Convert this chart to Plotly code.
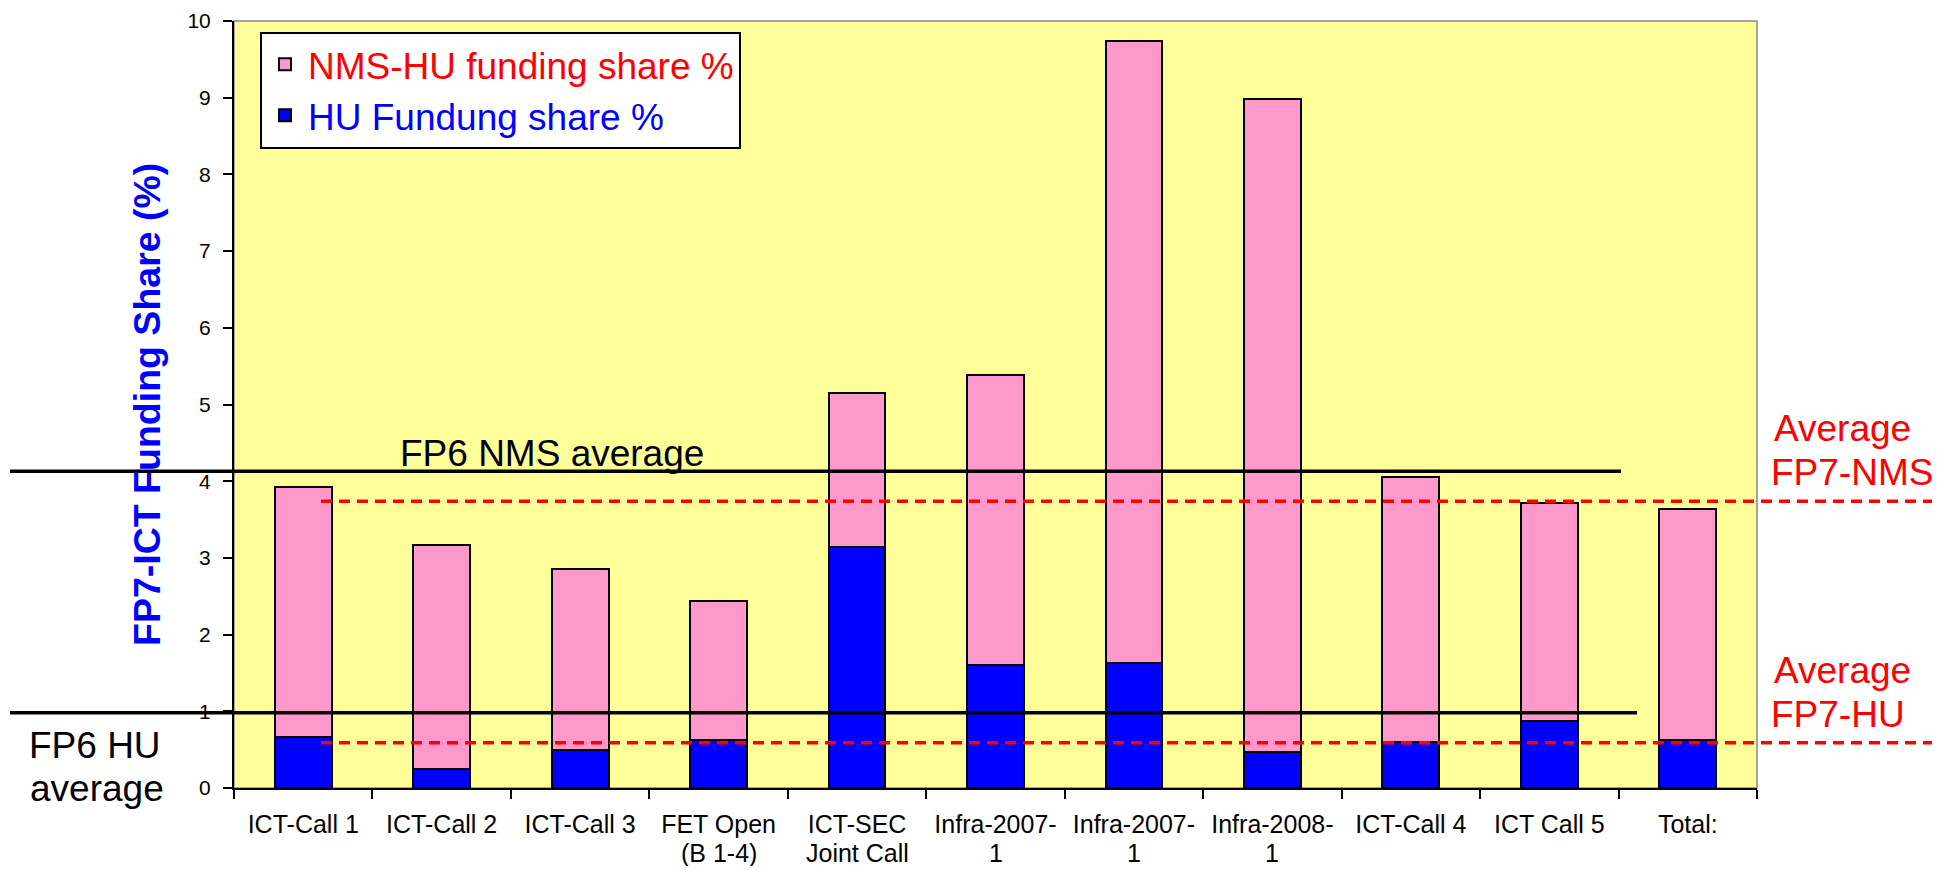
import plotly.graph_objects as go

# ---------------- data ----------------
labels_line1 = ["ICT-Call 1", "ICT-Call 2", "ICT-Call 3", "FET Open", "ICT-SEC",
                "Infra-2007-", "Infra-2007-", "Infra-2008-", "ICT-Call 4", "ICT Call 5", "Total:"]
labels_line2 = ["", "", "", "(B 1-4)", "Joint Call", "1", "1", "1", "", "", ""]
positions = list(range(len(labels_line1)))

hu_share = [0.67, 0.25, 0.50, 0.62, 3.14, 1.61, 1.63, 0.47, 0.60, 0.88, 0.62]
total_share = [3.93, 3.17, 2.86, 2.44, 5.15, 5.39, 9.74, 8.98, 4.05, 3.72, 3.64]
nms_hu_share = [round(t - h, 2) for t, h in zip(total_share, hu_share)]

fp6_nms_avg = 4.13
fp6_hu_avg = 0.98
fp7_nms_avg = 3.74
fp7_hu_avg = 0.59

y_ticks = list(range(0, 11))

# ---------------- layout geometry ----------------
# the page body adds an 8px margin around the figure, so the figure is made
# smaller and all screen positions below are given in window pixels.
OFF = 8
WIN_W, WIN_H = 1955, 874
W, H = WIN_W - 2 * OFF, WIN_H - 2 * OFF
PLOT_L, PLOT_R, PLOT_T, PLOT_B = 234, 1757, 21, 788   # window pixels
PW = PLOT_R - PLOT_L
PH = PLOT_B - PLOT_T
L = PLOT_L - OFF
T = PLOT_T - OFF
R = W - L - PW
B = H - T - PH
YMAX = 10
FONT = "Liberation Sans, Arial, sans-serif"


def px_x(x):
    return (x - PLOT_L) / PW


def px_y(y):
    return (PLOT_B - y) / PH


def val_y(v):
    return v / YMAX


fig = go.Figure()

fig.add_trace(go.Bar(
    x=positions, y=hu_share, width=0.41,
    name="<span style='color:#0000FF'>HU Fundung share %</span>",
    marker=dict(color="#0000FF", line=dict(color="black", width=2)),
))
fig.add_trace(go.Bar(
    x=positions, y=nms_hu_share, width=0.41,
    name="<span style='color:#FF0000'>NMS-HU funding share %</span>",
    marker=dict(color="#FF99CC", line=dict(color="black", width=2)),
))

shapes = []
# plot border (gray top/right)
shapes.append(dict(type="rect", xref="paper", yref="paper", x0=0, x1=1, y0=0, y1=1,
                   line=dict(color="#888888", width=1.5), layer="below"))
# FP6 averages (black solid)
shapes.append(dict(type="line", xref="paper", yref="y domain",
                   x0=px_x(10), x1=px_x(1621), y0=val_y(fp6_nms_avg), y1=val_y(fp6_nms_avg),
                   line=dict(color="black", width=3.5), layer="above"))
shapes.append(dict(type="line", xref="paper", yref="y domain",
                   x0=px_x(10), x1=px_x(1637), y0=val_y(fp6_hu_avg), y1=val_y(fp6_hu_avg),
                   line=dict(color="black", width=3.5), layer="above"))
# FP7 averages (red dashed)
for v in (fp7_nms_avg, fp7_hu_avg):
    shapes.append(dict(type="line", xref="paper", yref="y domain",
                       x0=px_x(321), x1=px_x(1932), y0=val_y(v), y1=val_y(v),
                       line=dict(color="#FF0000", width=3.5, dash="11px,7px"), layer="above"))

annotations = []


def text_at(text, left_px, baseline_px, size, color="black"):
    center = baseline_px - 0.3465 * size
    annotations.append(dict(
        text=text, xref="paper", yref="paper",
        x=px_x(left_px), y=px_y(center), xanchor="left", yanchor="middle",
        showarrow=False, font=dict(family=FONT, size=size, color=color),
        borderpad=0,
    ))


text_at("FP6 NMS average", 399, 466.7, 37)
text_at("FP6 HU", 28, 758.3, 37)
text_at("average", 29, 801.7, 37)
text_at("Average", 1773, 441.7, 37, "#FF0000")
text_at("FP7-NMS", 1770, 485, 37, "#FF0000")
text_at("Average", 1773, 683, 37, "#FF0000")
text_at("FP7-HU", 1770, 727, 37, "#FF0000")

# y-axis title (rotated)
annotations.append(dict(
    text="<b>FP7-ICT Funding Share (%)</b>", xref="paper", yref="paper",
    x=px_x(147), y=px_y(405), xanchor="center", yanchor="middle", textangle=-90,
    showarrow=False, font=dict(family=FONT, size=37.5, color="#0000FF"),
))

# second line of x tick labels
for p, lab in zip(positions, labels_line2):
    if lab:
        annotations.append(dict(
            text=lab, xref="x", yref="paper", x=p, y=px_y(853),
            xanchor="center", yanchor="middle", showarrow=False, borderpad=0,
            font=dict(family=FONT, size=25, color="black"),
        ))

fig.update_layout(
    width=W, height=H,
    margin=dict(l=L, r=R, t=T, b=B, pad=0, autoexpand=False),
    barmode="stack",
    plot_bgcolor="#FFFF99",
    paper_bgcolor="white",
    font=dict(family=FONT, color="black"),
    showlegend=True,
    legend=dict(
        x=px_x(260), y=px_y(31.7), xanchor="left", yanchor="top",
        bgcolor="white", bordercolor="black", borderwidth=2,
        font=dict(family=FONT, size=37), traceorder="reversed",
        itemwidth=36, tracegroupgap=0,
    ),
    shapes=shapes,
    annotations=annotations,
    xaxis=dict(
        range=[-0.5, len(positions) - 0.5],
        tickmode="array", tickvals=positions, ticktext=labels_line1,
        ticks="", showgrid=False, zeroline=False, automargin=False,
        showline=True, linecolor="black", linewidth=2,
        tickfont=dict(family=FONT, size=25, color="black"),
        ticklabelstandoff=13,
        minor=dict(tick0=-0.5, dtick=1, ticks="outside", ticklen=9, tickwidth=2,
                   tickcolor="black", showgrid=False),
        fixedrange=True,
    ),
    yaxis=dict(
        range=[0, YMAX], tickmode="array", tickvals=y_ticks,
        ticks="outside", ticklen=9, tickwidth=2, tickcolor="black",
        showgrid=False, zeroline=False, automargin=False,
        showline=True, linecolor="black", linewidth=2,
        tickfont=dict(family=FONT, size=21, color="black"),
        ticklabelstandoff=8,
        fixedrange=True,
    ),
)

fig.write_html("out.html")
